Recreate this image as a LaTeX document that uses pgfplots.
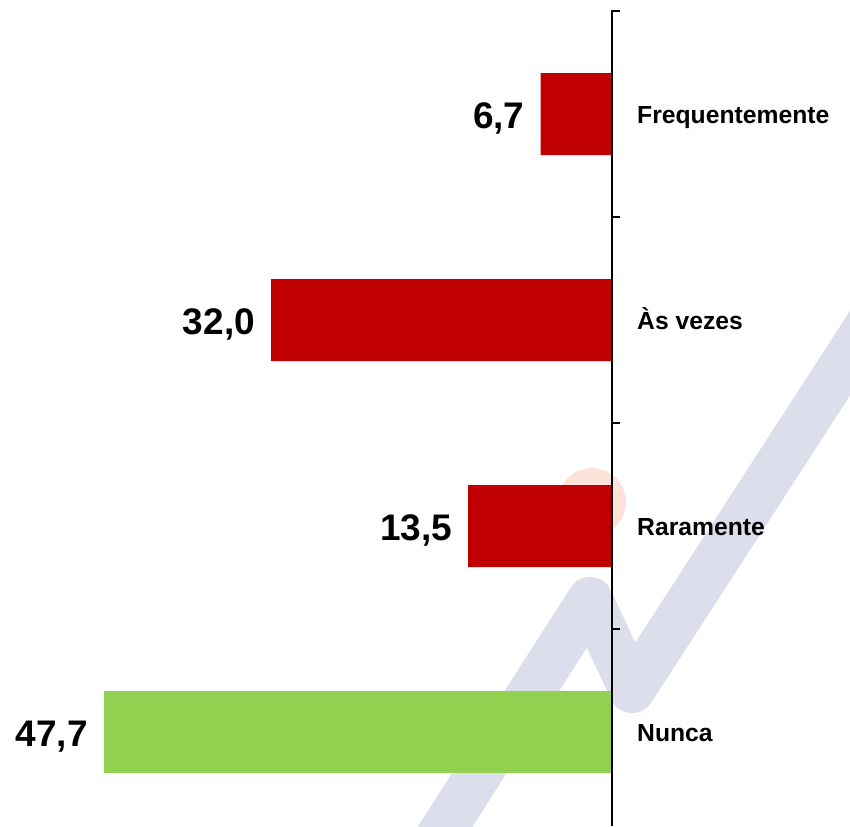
\documentclass[border=0pt]{standalone}
\usepackage{fontspec}
\setmainfont{Liberation Sans}
\usepackage{pgfplots}
\usepackage{pgfplotstable}
\pgfplotsset{compat=1.18}
\definecolor{barred}{RGB}{192,0,0}
\definecolor{bargreen}{RGB}{146,208,80}
\definecolor{wmline}{RGB}{221,222,235}
\definecolor{wmcirc}{RGB}{252,226,216}
\pgfplotstableread{
y v
1 13.5
2 32.0
3 6.7
}\redtab
\pgfplotstableread{
y v
0 47.7
}\greentab
\begin{document}
\begin{tikzpicture}
\useasboundingbox (0pt,0pt) rectangle (850pt,826pt);
\clip (0pt,0pt) rectangle (850pt,826pt);
% background watermark
\draw[wmline, line width=46pt, line join=round, line cap=round]
  (420pt,-40pt) -- (590pt,226pt) -- (632pt,136pt) -- (900pt,550pt);
\fill[wmcirc] (592pt,324pt) circle (34pt);
\begin{axis}[
  at={(0pt,0pt)}, anchor=south west,
  width=612pt, height=816pt, scale only axis,
  xmin=-57.46, xmax=0,
  ymin=-0.456, ymax=3.505,
  axis x line=none,
  axis y line=right,
  y axis line style={-, black, line width=1.5pt},
  xbar, bar width=82pt, bar shift=0pt,
  ytick={0,1,2,3},
  yticklabels={Nunca,Raramente,Às vezes,Frequentemente},
  minor ytick={0.5,1.5,2.5,3.5},
  major tick length=0pt,
  minor tick length=8pt,
  tick align=outside,
  tick style={black, line width=1.5pt},
  yticklabel style={anchor=base west, inner sep=0pt, xshift=25pt, yshift=-9pt,
    font=\bfseries\fontsize{24.7}{28}\selectfont},
  point meta=explicit,
  /pgf/number format/assume math mode=true,
  nodes near coords={\pgfmathprintnumber[fixed,fixed zerofill,precision=1,use comma]{\pgfplotspointmeta}},
  nodes near coords style={anchor=base east, inner sep=0pt, xshift=-16pt, yshift=-14.5pt,
    font=\bfseries\fontsize{37}{40}\selectfont, black},
  axis on top,
]
\addplot[draw=none, fill=barred] table[x expr=-\thisrow{v}, y=y, meta=v] {\redtab};
\addplot[draw=none, fill=bargreen] table[x expr=-\thisrow{v}, y=y, meta=v] {\greentab};
\end{axis}
\end{tikzpicture}
\end{document}
